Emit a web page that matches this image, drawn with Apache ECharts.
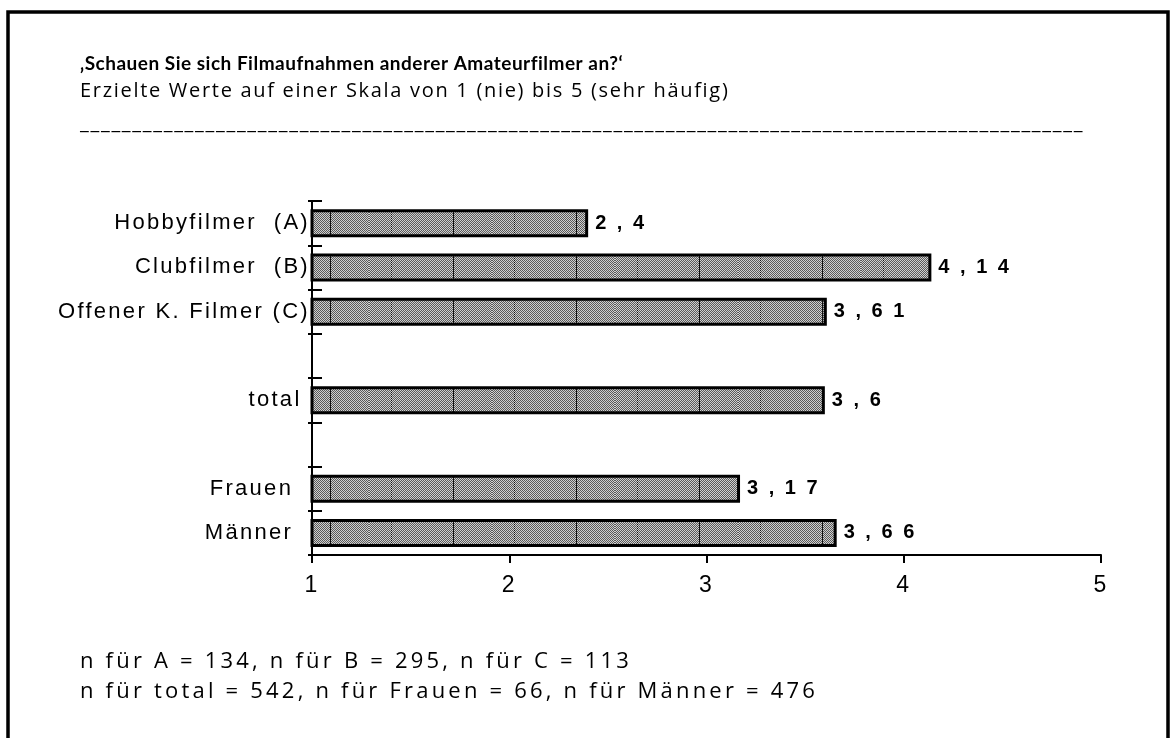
<!DOCTYPE html>
<html>
<head>
<meta charset="utf-8">
<script src="https://cdn.jsdelivr.net/npm/echarts@6/dist/echarts.min.js"></script>
<style>
  html, body { margin: 0; padding: 0; background: #fff; }
  #chart { width: 1171px; height: 738px; }
</style>
</head>
<body>
<div id="chart"></div>
<script>
const categories = ['Hobbyfilmer  (A)', 'Clubfilmer  (B)', 'Offener K. Filmer (C)', '', 'total ', '', 'Frauen  ', 'Männer  ']
const values = [2.4, 4.14, 3.61, null, 3.6, null, 3.17, 3.66]
const xTicks = [1, 2, 3, 4, 5]
const titleText = '‚Schauen Sie sich Filmaufnahmen anderer Amateurfilmer an?‘'
const subtitleText = 'Erzielte Werte auf einer Skala von 1 (nie) bis 5 (sehr häufig)'
const noteLines = [
  'n für A = 134, n für B = 295, n für C = 113',
  'n für total = 542, n für Frauen = 66, n für Männer = 476'
]

// the scanned figure uses spaced-out lettering, canvas has letterSpacing per draw call
const spacingFor = (font) => {
  if (font.includes('Liberation Sans')) return font.startsWith('bold') ? '2.5px' : '2.3px'
  if (font.startsWith('bold')) return '0.5px'
  if (font.includes('22px')) return '3.2px'   // footnotes
  return '1.7px'
}
const origFillText = CanvasRenderingContext2D.prototype.fillText
CanvasRenderingContext2D.prototype.fillText = function (t, x, y, w) {
  this.letterSpacing = spacingFor(this.font)
  return w === undefined ? origFillText.call(this, t, x, y) : origFillText.call(this, t, x, y, w)
}

// dithered grey fill with the faint vertical lines of the original
const makePattern = () => {
  const c = document.createElement('canvas')
  c.width = 123
  c.height = 2
  const g = c.getContext('2d')
  for (let x = 0; x < 123; x++) {
    for (let y = 0; y < 2; y++) {
      g.fillStyle = (x + y) % 2 ? '#d0d0d0' : '#5a5a5a'
      g.fillRect(x, y, 1, 1)
    }
  }
  g.fillStyle = '#111'
  g.fillRect(84, 0, 1, 2)
  g.fillRect(22, 0, 1, 1)
  return c
}

const chart = echarts.init(document.getElementById('chart'), null, { renderer: 'canvas' })

const opt = {
  animation: false,
  backgroundColor: '#fff',
  grid: { left: 312, right: 70, top: 201, bottom: 183 },
  xAxis: {
    type: 'value',
    min: xTicks[0],
    max: xTicks[xTicks.length - 1],
    interval: 1,
    axisLine: { show: true, lineStyle: { color: '#000', width: 2 } },
    axisTick: { show: true, length: 8, lineStyle: { color: '#000', width: 2 } },
    axisLabel: { color: '#000', fontFamily: 'Liberation Sans', fontSize: 23, margin: 19 },
    splitLine: { show: false }
  },
  yAxis: [
    {
      type: 'category',
      data: categories,
      inverse: true,
      axisLine: { show: true, lineStyle: { color: '#000', width: 2 } },
      axisTick: { show: true, length: 4, lineStyle: { color: '#000', width: 2 } },
      axisLabel: { color: '#000', fontFamily: 'Liberation Sans', fontSize: 22, margin: 2, interval: 0 }
    },
    {
      type: 'category',
      data: categories,
      inverse: true,
      position: 'left',
      axisLine: { show: false },
      axisTick: { show: true, inside: true, length: 10, lineStyle: { color: '#000', width: 2 } },
      axisLabel: { show: false }
    }
  ],
  series: [
    {
      type: 'bar',
      data: values,
      barWidth: 28,
      itemStyle: {
        color: { image: makePattern(), repeat: 'repeat' },
        borderColor: '#000',
        borderWidth: 3
      },
      label: {
        show: true,
        position: 'right',
        distance: 7,
        color: '#000',
        fontFamily: 'Liberation Sans',
        fontWeight: 'bold',
        fontSize: 20,
        formatter: (p) => String(p.value).replace('.', ',').split('').join(' ')
      }
    }
  ],
  graphic: [
    {
      type: 'rect',
      shape: { x: 8, y: 12, width: 1160, height: 800 },
      style: { fill: null, stroke: '#000', lineWidth: 3.5 }
    },
    {
      type: 'text', left: 80, top: 54,
      style: { text: titleText, fontFamily: 'Lato', fontWeight: 'bold', fontSize: 19, fill: '#000' }
    },
    {
      type: 'text', left: 80, top: 81,
      style: { text: subtitleText, fontFamily: 'Open Sans', fontSize: 20, fill: '#000' }
    },
    {
      type: 'text', left: 80, top: 113,
      style: { text: '_'.repeat(96), fontFamily: 'Open Sans', fontSize: 20, fill: '#000' }
    },
    {
      type: 'text', left: 80, top: 651,
      style: { text: noteLines[0], fontFamily: 'Open Sans', fontSize: 22, fill: '#000' }
    },
    {
      type: 'text', left: 80, top: 681,
      style: { text: noteLines[1], fontFamily: 'Open Sans', fontSize: 22, fill: '#000' }
    }
  ]
}

chart.setOption(opt)
</script>
</body>
</html>
